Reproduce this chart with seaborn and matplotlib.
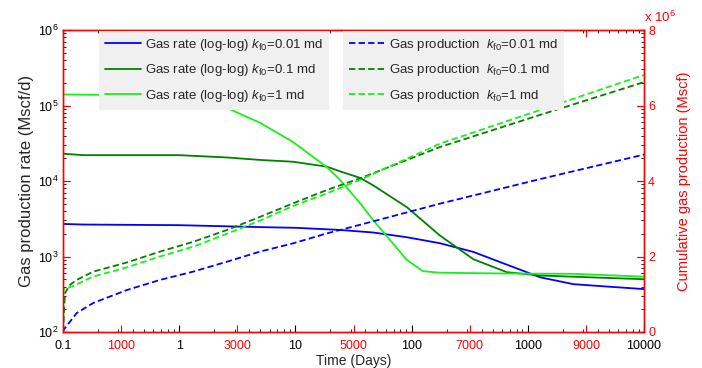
import numpy as np
import pandas as pd
import matplotlib
matplotlib.use("Agg")
import matplotlib.pyplot as plt
from matplotlib.ticker import FixedLocator, FixedFormatter, LogLocator, NullFormatter
import seaborn as sns

sns.set_style("ticks")
plt.rcParams['font.family'] = ['Liberation Sans', 'DejaVu Sans']
plt.rcParams['mathtext.fontset'] = 'custom'
plt.rcParams['mathtext.rm'] = 'Liberation Sans'
plt.rcParams['mathtext.it'] = 'Liberation Sans:italic'
plt.rcParams['mathtext.bf'] = 'Liberation Sans:bold'

# ---------------- data ----------------
# gas rate (Mscf/d) vs time (days), log-log
t_rate_001 = [0.1, 0.15, 1, 5, 10, 24, 46.5, 91, 175, 340, 660, 1280, 2470, 4800, 10000]
q_rate_001 = [2700, 2650, 2600, 2450, 2400, 2250, 2080, 1800, 1500, 1150, 780, 530, 430, 400, 370]

t_rate_01 = [0.1, 0.15, 1, 2.57, 5, 9.5, 18.6, 24, 36, 46.5, 91, 175, 340, 660, 1280, 2470, 10000]
q_rate_01 = [23000, 22000, 22000, 20500, 19000, 18000, 15500, 13500, 11000, 8800, 4500, 1900, 920, 620, 560, 540, 500]

t_rate_1 = [0.1, 0.25, 0.5, 1, 1.5, 2.57, 4.96, 9.5, 18.6, 24, 36, 46.5, 91, 125, 175, 660, 2470, 10000]
q_rate_1 = [140000, 138000, 130000, 118000, 108000, 93000, 59000, 33000, 15300, 10500, 5100, 3050, 900, 640, 610, 595, 590, 540]

# cumulative gas production (Mscf) vs time (days), linear
t_cum_001 = [0, 6, 235, 522, 809, 1096, 1670, 2243, 2817, 3391, 3964, 4538, 5112, 6489, 8210, 10000]
g_cum_001 = [0, 0.05e6, 0.50e6, 0.77e6, 0.94e6, 1.11e6, 1.38e6, 1.60e6, 1.86e6, 2.13e6, 2.35e6, 2.61e6, 2.84e6, 3.40e6, 4.05e6, 4.70e6]

t_cum_01 = [0, 34, 120, 235, 522, 1096, 1670, 2243, 2817, 3391, 3964, 4538, 5112, 6489, 8210, 10000]
g_cum_01 = [0, 1.03e6, 1.25e6, 1.38e6, 1.60e6, 1.84e6, 2.13e6, 2.39e6, 2.70e6, 3.05e6, 3.41e6, 3.76e6, 4.07e6, 4.90e6, 5.75e6, 6.62e6]

t_cum_1 = [0, 6, 178, 522, 1096, 1670, 2243, 2817, 3391, 3964, 4538, 5112, 6489, 8210, 10000]
g_cum_1 = [0, 1.13e6, 1.22e6, 1.47e6, 1.71e6, 2.00e6, 2.26e6, 2.60e6, 2.95e6, 3.34e6, 3.67e6, 4.03e6, 4.99e6, 5.88e6, 6.81e6]

rate_labels = [r"Gas rate (log-log) $k_{\mathrm{f0}}$=0.01 md",
               r"Gas rate (log-log) $k_{\mathrm{f0}}$=0.1 md",
               r"Gas rate (log-log) $k_{\mathrm{f0}}$=1 md"]
cum_labels = [r"Gas production  $k_{\mathrm{f0}}$=0.01 md",
              r"Gas production  $k_{\mathrm{f0}}$=0.1 md",
              r"Gas production  $k_{\mathrm{f0}}$=1 md"]
colors = ['#0000ff', '#008000', '#18f018']

log_xticks = [0.1, 1, 10, 100, 1000, 10000]
log_xticklabels = ['0.1', '1', '10', '100', '1000', '10000']
log_yticks = [1e2, 1e3, 1e4, 1e5, 1e6]
log_yticklabels = [r'$10^{2}$', r'$10^{3}$', r'$10^{4}$', r'$10^{5}$', r'$10^{6}$']
lin_xticks = [1000, 3000, 5000, 7000, 9000]
lin_xticklabels = ['1000', '3000', '5000', '7000', '9000']
lin_yticks = [0, 2e6, 4e6, 6e6, 8e6]
lin_yticklabels = ['0', '2', '4', '6', '8']

RED = '#ff0000'

# ---------------- figure ----------------
fig = plt.figure(figsize=(7.02, 3.68), dpi=100)
rect = [63/702, 1 - 332/368, (644-63)/702, (332-30)/368]
ax = fig.add_axes(rect)
ax.set_xscale('log')
ax.set_yscale('log')

rate_sets = [(t_rate_001, q_rate_001), (t_rate_01, q_rate_01), (t_rate_1, q_rate_1)]
rate_handles = []
for (t, q), c, lab in zip(rate_sets, colors, rate_labels):
    df = pd.DataFrame({'t': t, 'q': q})
    sns.lineplot(data=df, x='t', y='q', ax=ax, color=c, lw=1.3, legend=False)
    rate_handles.append(ax.lines[-1])
    ax.lines[-1].set_label(lab)

ax.set_xlim(0.1, 10000)
ax.set_ylim(1e2, 1e6)
ax.xaxis.set_major_locator(FixedLocator(log_xticks))
ax.xaxis.set_major_formatter(FixedFormatter(log_xticklabels))
ax.yaxis.set_major_locator(FixedLocator(log_yticks))
ax.yaxis.set_major_formatter(FixedFormatter(log_yticklabels))
ax.xaxis.set_minor_locator(LogLocator(base=10, subs=np.arange(2, 10), numticks=20))
ax.yaxis.set_minor_locator(LogLocator(base=10, subs=np.arange(2, 10), numticks=20))
ax.xaxis.set_minor_formatter(NullFormatter())
ax.yaxis.set_minor_formatter(NullFormatter())
ax.tick_params(which='both', direction='in', top=True, right=True, colors='black',
               labelsize=9, pad=5.5)
ax.tick_params(axis='y', pad=3)
ax.tick_params(which='major', length=5, width=0.8)
ax.tick_params(which='minor', length=2.5, width=0.6)
ax.set_xlabel('Time (Days)', fontsize=10, labelpad=2)
ax.set_ylabel('Gas production rate (Mscf/d)', fontsize=12, labelpad=3)
for s in ax.spines.values():
    s.set_color(RED)
    s.set_linewidth(1.0)

# linear overlay axes
ax2 = fig.add_axes(rect)
ax2.patch.set_visible(False)
cum_sets = [(t_cum_001, g_cum_001), (t_cum_01, g_cum_01), (t_cum_1, g_cum_1)]
cum_handles = []
for (t, g), c, lab in zip(cum_sets, colors, cum_labels):
    df = pd.DataFrame({'t': t, 'g': g})
    sns.lineplot(data=df, x='t', y='g', ax=ax2, color=c, lw=1.3, linestyle='--', legend=False)
    ax2.lines[-1].set_label(lab)
    ax2.lines[-1].set_dashes((3.5, 1.8))
    cum_handles.append(ax2.lines[-1])

ax2.set_xlim(0, 10000)
ax2.set_ylim(0, 8e6)
ax2.set_xticks(lin_xticks)
ax2.set_xticklabels(lin_xticklabels)
ax2.set_yticks(lin_yticks)
ax2.set_yticklabels(lin_yticklabels)
ax2.tick_params(which='major', direction='in', length=5, width=0.8, colors=RED,
                labelsize=9, bottom=True, top=True, left=True, right=True,
                labelbottom=True, labelleft=False, labelright=True, pad=5.5)
ax2.tick_params(axis='y', pad=3)
ax2.set_xlabel('')
ax2.set_ylabel('Cumulative gas production (Mscf)', color=RED, fontsize=10.5, labelpad=16)
ax2.yaxis.set_label_position('right')
for s in ax2.spines.values():
    s.set_color(RED)
    s.set_linewidth(1.0)
ax2.text(1.0, 1.018, r'x $10^{6}$', transform=ax2.transAxes, color=RED,
         fontsize=9.5, ha='left', va='bottom')

leg_kw = dict(frameon=True, facecolor='#f0f0f0', edgecolor='none', framealpha=1,
              fancybox=False, fontsize=9.5, handlelength=2.7, handletextpad=0.35,
              labelspacing=0.72, borderpad=0.45, borderaxespad=0.0, loc='upper left')
leg1 = ax2.legend(handles=rate_handles, bbox_to_anchor=(0.062, 0.997), **leg_kw)
ax2.add_artist(leg1)
leg2 = ax2.legend(handles=cum_handles, bbox_to_anchor=(0.482, 0.997), **leg_kw)

fig.savefig('out.png', dpi=100)
